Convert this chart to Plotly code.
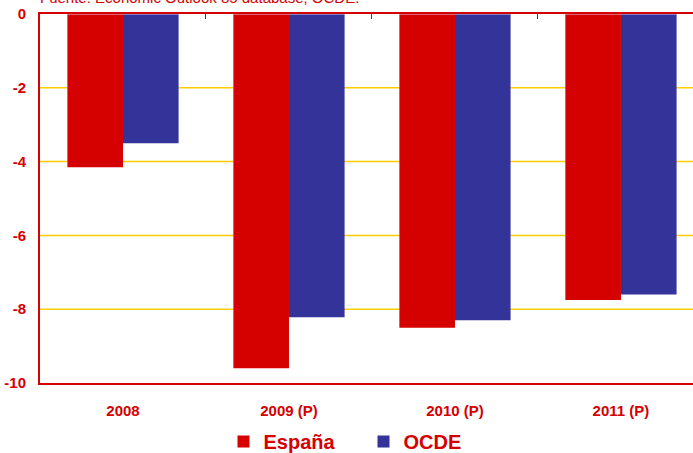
import plotly.graph_objects as go

# ==============================================================================
# Data
# ==============================================================================
years = ["2008", "2009 (P)", "2010 (P)", "2011 (P)"]
espana = [-4.15, -9.6, -8.5, -7.75]
ocde = [-3.5, -8.22, -8.3, -7.6]
yticks = [0, -2, -4, -6, -8, -10]
ytick_text = ["0", "-2", "-4", "-6", "-8", "-10"]

RED = "#D50000"
BLUE = "#333399"
GRID = "#FFCC00"
FONT = "Liberation Sans, Arial, sans-serif"

# ==============================================================================
# Figure
# ==============================================================================
fig = go.Figure()
fig.add_trace(go.Bar(x=years, y=espana, name="España", marker=dict(color=RED, line=dict(width=0))))
fig.add_trace(go.Bar(x=years, y=ocde, name="OCDE", marker=dict(color=BLUE, line=dict(width=0))))
# invisible trace so the top axis (with boundary ticks) gets drawn
fig.add_trace(go.Bar(x=years, y=[0] * len(years), xaxis="x2", showlegend=False, hoverinfo="skip",
                     marker=dict(color="rgba(0,0,0,0)")))

# yellow gridlines
for v in yticks[1:-1]:
    fig.add_hline(y=v, line_color=GRID, line_width=1.5, layer="below")

fig.update_layout(
    width=693, height=453,
    margin=dict(l=40, r=0, t=14, b=70, autoexpand=False),
    paper_bgcolor="white", plot_bgcolor="white",
    barmode="group", bargap=0.33, bargroupgap=0,
    font=dict(family=FONT, color=RED),
    showlegend=True,
    legend=dict(orientation="h", x=0.281, xanchor="left", y=-0.106, yanchor="top",
                font=dict(size=20, color=RED, family=FONT, weight="bold"),
                itemwidth=30, entrywidth=95, tracegroupgap=0),
    xaxis=dict(range=[-0.5, 3.434], showline=True, linecolor=RED, linewidth=2,
               automargin=False, showgrid=False, zeroline=False, ticks="",
               ticklabelstandoff=13,
               tickfont=dict(size=15, color=RED, family=FONT, weight="bold")),
    xaxis2=dict(range=[-0.5, 3.434], overlaying="x", side="top",
                showline=True, linecolor=RED, linewidth=2, showgrid=False, zeroline=False,
                ticks="inside", tickson="boundaries", ticklen=5, tickcolor=RED, tickwidth=1,
                showticklabels=False, automargin=False),
    yaxis=dict(range=[-10, 0], tickvals=yticks, ticktext=ytick_text, showline=True,
               linecolor=RED, linewidth=2, automargin=False,
               showgrid=False, zeroline=False,
               ticks="", ticklabelstandoff=9,
               tickfont=dict(size=15, color=RED, family=FONT, weight="bold")),
)

fig.add_annotation(text="Fuente: Economic Outlook 85 database, OCDE.", xref="paper", yref="paper",
                   x=-0.003, y=1.0, xanchor="left", yanchor="bottom", yshift=6,
                   showarrow=False, font=dict(size=15, color=RED, family=FONT))

fig.write_html("out.html", config={"displayModeBar": False},
               post_script="document.body.style.margin='0';")
